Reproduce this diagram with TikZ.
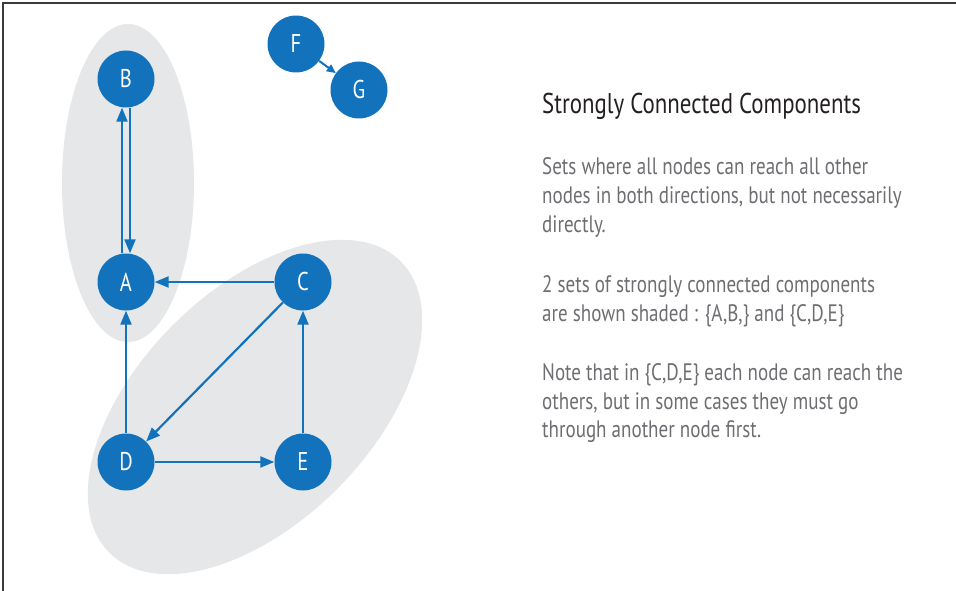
\documentclass[tikz,border=0pt]{standalone}
\usepackage{fontspec}
\setmainfont{PT Sans}[FakeStretch=0.8]
\usetikzlibrary{positioning,arrows.meta}
\definecolor{nodeblue}{HTML}{1272BC}
\definecolor{shadegrey}{HTML}{E6E7E8}
\definecolor{textgrey}{HTML}{6D6E71}
\definecolor{titleblack}{HTML}{231F20}
\definecolor{framegrey}{HTML}{3A3A3A}
\tikzset{
  vtx/.style={circle, fill=nodeblue, text=white, minimum size=57pt,
              inner sep=0pt, font=\fontsize{25.7}{26}\selectfont},
  scc/.style={fill=shadegrey, draw=none},
  ar/.style={-{Triangle[length=14pt,width=11pt]}, line width=2.2pt, draw=nodeblue},
  arsm/.style={-{Triangle[length=9pt,width=8pt]}, line width=2pt, draw=nodeblue},
  ttl/.style={anchor=base west, inner sep=0pt, text=titleblack,
              font=\fontsize{28.6}{30}\selectfont},
  txt/.style={anchor=base west, inner sep=0pt, text=textgrey,
              font=\fontsize{23.8}{28.5}\selectfont},
}
\begin{document}
\begin{tikzpicture}[x=1pt,y=-1pt]
  \useasboundingbox (0,0) rectangle (956,591);
  % frame
  \draw[framegrey, line width=1.5pt] (3,591) -- (3,3) -- (956,3);

  % shaded components
  \coordinate (ab) at (128,183);
  \coordinate (cde) at (255,407);
  \fill[scc] (ab) ellipse [x radius=66, y radius=159];
  \fill[scc, rotate around={45:(cde)}] (cde) ellipse [x radius=206, y radius=116];

  % vertices
  \node[vtx] (B) at (126,79)  {B};
  \node[vtx] (A) at (126,282) {A};
  \node[vtx] (C) at (303,282) {C};
  \node[vtx] (D) at (126,462) {D};
  \node[vtx] (E) at (303,462) {E};
  \node[vtx] (F) at (296,44)  {F};
  \node[vtx] (G) at (359,90)  {G};

  % edges
  \draw[ar] ([xshift=-4]A.north) -- ([xshift=-4]B.south);
  \draw[ar] ([xshift=4]B.south) -- ([xshift=4]A.north);
  \draw[ar] (C) -- (A);
  \draw[ar] (C) -- (D);
  \draw[ar] (D) -- (E);
  \draw[ar] (E) -- (C);
  \draw[ar] (D) -- (A);
  \draw[arsm] (F) -- (G);

  % explanation, one node per line
  \node[ttl] (title) at (542,114) {Strongly Connected Components};
  \foreach \y/\t [count=\i] in {
      175/{Sets where all nodes can reach all other},
      203.5/{nodes in both directions, but not necessarily},
      232/{directly.},
      292/{2 sets of strongly connected components},
      321/{are shown shaded : \{A,B,\} and \{C,D,E\}},
      380/{Note that in \{C,D,E\} each node can reach the},
      409/{others, but in some cases they must go},
      437/{through another node first.}} {
    \node[txt] (line\i) at (542,\y) {\t};
  }
\end{tikzpicture}
\end{document}
